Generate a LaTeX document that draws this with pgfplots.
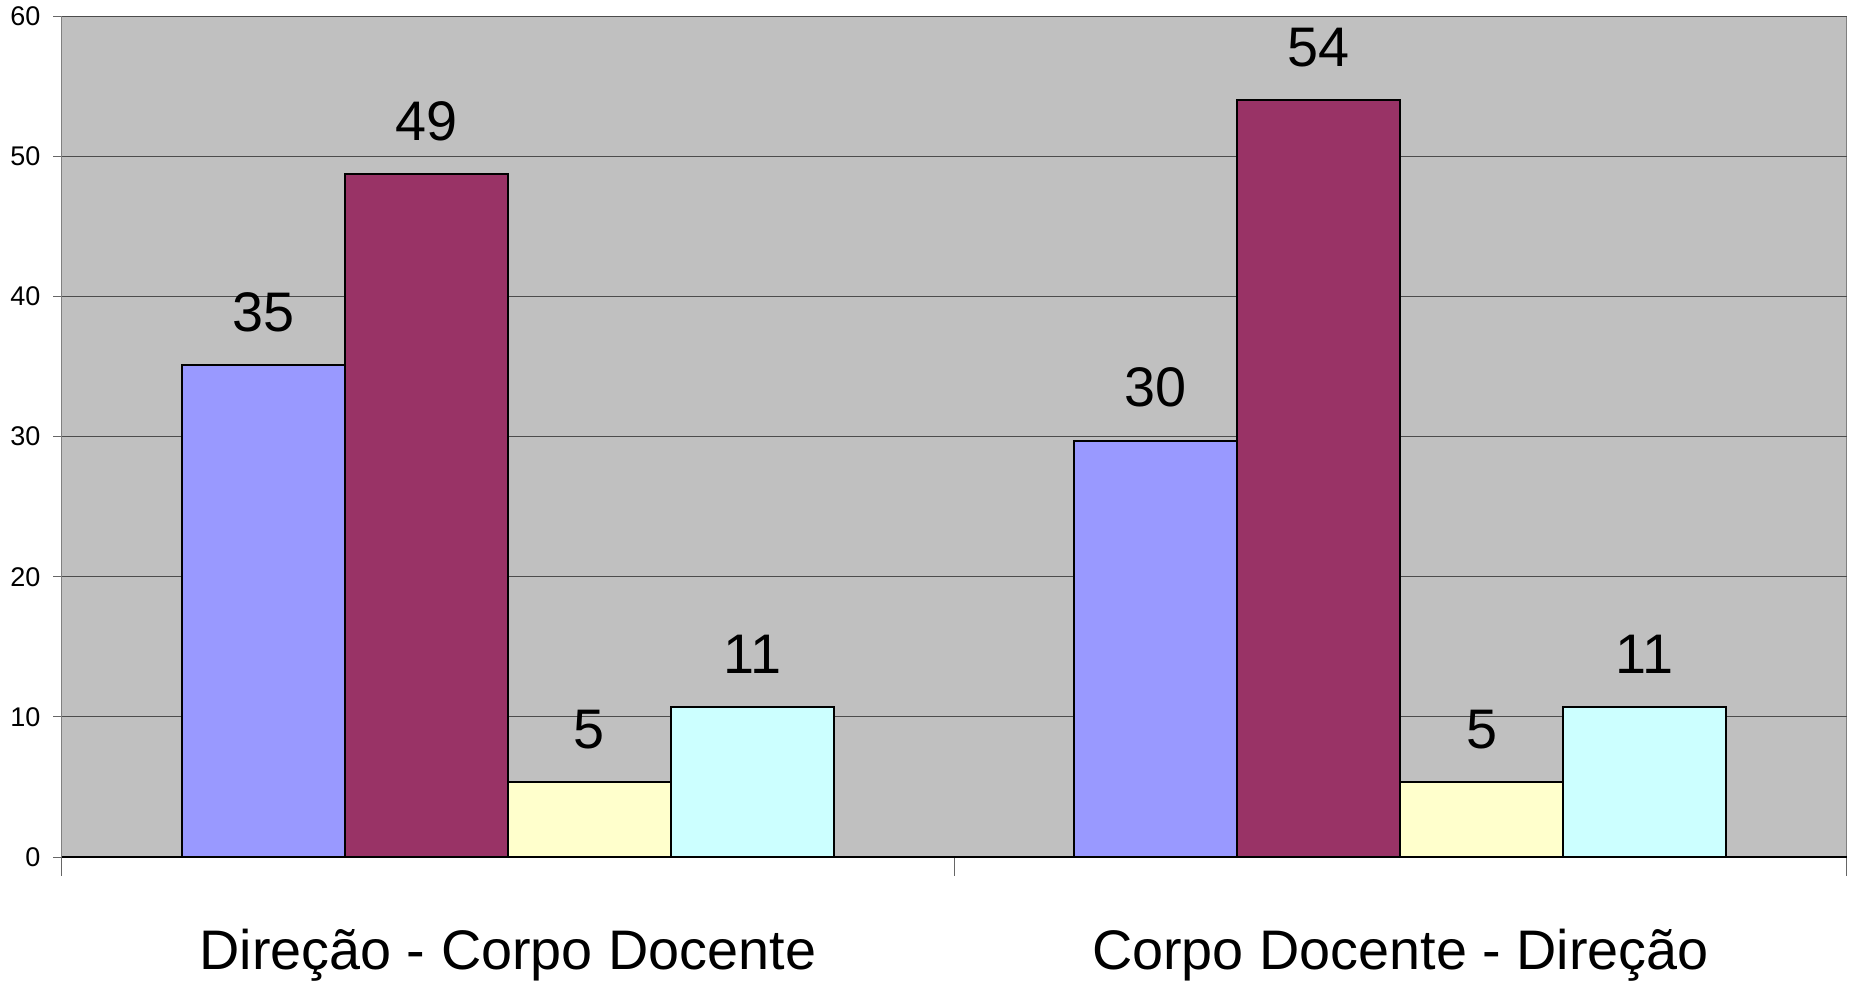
\documentclass[border=0pt]{standalone}
\usepackage{pgfplots}
\pgfplotsset{compat=1.18}
\usepackage{fontspec}
\setmainfont{Liberation Sans}
\definecolor{bgray}{HTML}{C0C0C0}
\definecolor{sblue}{HTML}{9999FF}
\definecolor{scrim}{HTML}{993366}
\definecolor{syel}{HTML}{FFFFCC}
\definecolor{scyan}{HTML}{CCFFFF}
\begin{document}
\begin{tikzpicture}
\useasboundingbox (-24.6pt,-49.5pt) rectangle (714.9pt,342.8pt);
\begin{axis}[
  at={(0,0)}, anchor=south west,
  scale only axis, width=714pt, height=336.4pt,
  xmin=-0.5, xmax=1.5, ymin=0, ymax=60,
  clip=false,
  axis lines*=left,
  axis background/.style={fill=bgray, draw=gray, line width=0.4pt},
  x axis line style={black, line width=0.7pt},
  y axis line style={gray, line width=0.5pt},
  ytick distance=10,
  ymajorgrids,
  grid style={black!70, line width=0.4pt},
  tick align=outside,
  major tick length=3.3pt,
  tick style={black!60, line width=0.4pt},
  /pgf/number format/assume math mode=true,
  yticklabel style={font=\fontsize{10.8}{12}\selectfont, xshift=-1.6pt},
  xtick={-0.5,0.5,1.5}, xticklabels={},
  xtick style={/pgfplots/major tick length=7.5pt},
  extra x ticks={0,1},
  extra x tick labels={Direção - Corpo Docente, Corpo Docente - Direção},
  extra x tick style={xtick style={draw=none}, grid=none,
     xticklabel style={font=\fontsize{22.3}{26}\selectfont, yshift=-21.8pt}},
  ybar, bar width=0.1826,
  nodes near coords={\pgfmathprintnumber[fixed,precision=0]{\pgfplotspointmeta}},
  every node near coord/.append style={font=\fontsize{22.3}{26}\selectfont, anchor=south, inner sep=0pt, yshift=13pt, black},
]
\addplot[fill=sblue, draw=black, line width=0.8pt, bar shift=-0.2739] coordinates {(0,35.1) (1,29.7)};
\addplot[fill=scrim, draw=black, line width=0.8pt, bar shift=-0.0913] coordinates {(0,48.7) (1,54.0)};
\addplot[fill=syel, draw=black, line width=0.8pt, bar shift=0.0913] coordinates {(0,5.35) (1,5.35)};
\addplot[fill=scyan, draw=black, line width=0.8pt, bar shift=0.2739] coordinates {(0,10.74) (1,10.74)};
\end{axis}
\end{tikzpicture}
\end{document}
